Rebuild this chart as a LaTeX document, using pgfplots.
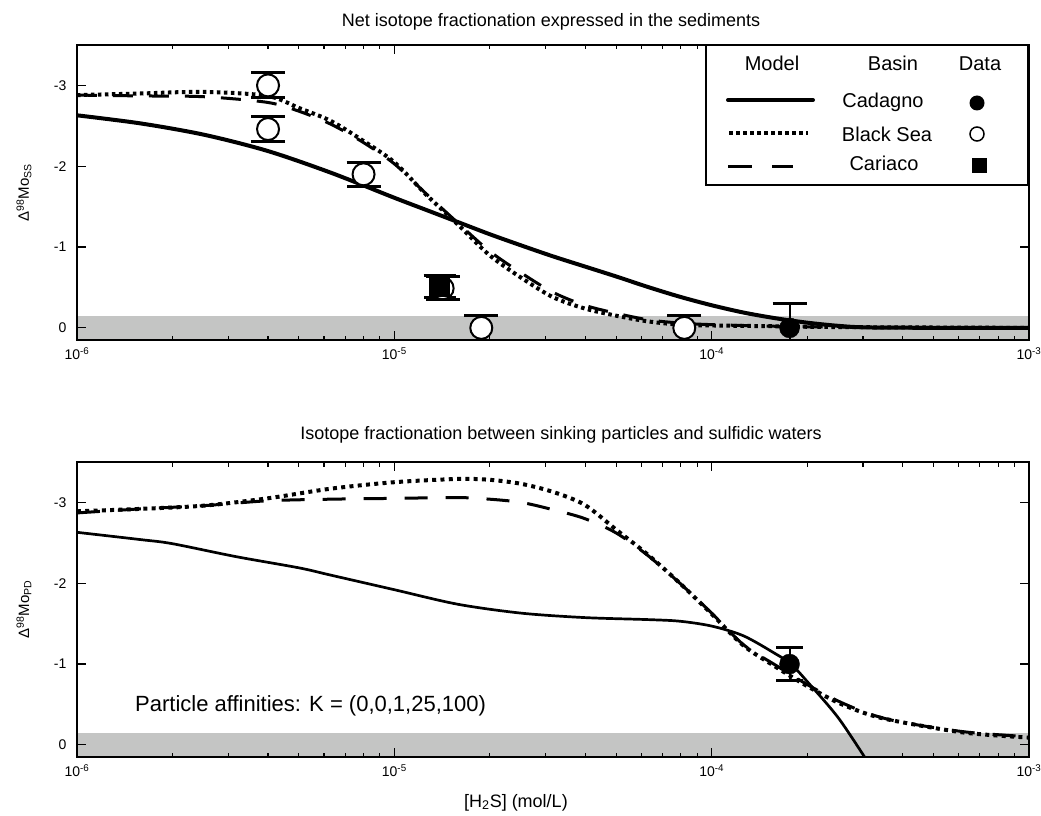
\documentclass[border=0pt]{standalone}
\usepackage{fontspec}
\setmainfont{Liberation Sans}
\usepackage{pgfplots}
\pgfplotsset{compat=1.18}
\definecolor{band}{RGB}{196,197,196}
\newcommand\tickfont{\fontsize{14}{16}\selectfont}

\pgfplotsset{
  moaxis/.style={
    scale only axis, width=952pt, height=295pt,
    xmin=1e-6, xmax=1e-3,
    ymin=-3.5, ymax=0.15, y dir=reverse,
    xtick={1e-6,1e-5,1e-4,1e-3},
    xticklabels={{\tickfont 10\textsuperscript{-6}},{\tickfont 10\textsuperscript{-5}},
                 {\tickfont 10\textsuperscript{-4}},{\tickfont 10\textsuperscript{-3}}},
    minor xtick={2e-6,3e-6,4e-6,5e-6,6e-6,7e-6,8e-6,9e-6,
                 2e-5,3e-5,4e-5,5e-5,6e-5,7e-5,8e-5,9e-5,
                 2e-4,3e-4,4e-4,5e-4,6e-4,7e-4,8e-4,9e-4},
    ytick={-3,-2,-1,0},
    yticklabels={{\tickfont -3},{\tickfont -2},{\tickfont -1},{\tickfont 0}},
    tick align=inside, tick pos=both,
    major tick length=9pt, minor tick length=4.5pt,
    every tick/.style={line width=1.2pt, black},
    axis line style={line width=1.6pt},
    axis on top,
    yticklabel style={xshift=-7pt},
    xticklabel style={yshift=-4pt},
    ylabel style={at={(axis description cs:-0.0557,0.5)}, anchor=center},
  },
  ebar/.style={
    error bars/y dir=both, error bars/y explicit,
    error bars/error bar style={line width=2pt, black},
    error bars/error mark options={rotate=90, mark size=#1, line width=3pt, black}},
  openpt/.style={only marks, mark=*, mark size=11pt,
    mark options={fill=white, draw=black, line width=2pt}, ebar=17pt},
  fullpt/.style={only marks, mark=*, mark size=10pt,
    mark options={fill=black, draw=black}},
}

\begin{document}
\begin{tikzpicture}

% top panel: sediments
\begin{semilogxaxis}[moaxis, at={(0,417pt)},
  ylabel={\fontsize{15}{17}\selectfont Δ\textsuperscript{98}Mo\textsubscript{SS}}]
\addplot[fill=band, draw=none] coordinates {(1e-6,-0.15) (1e-3,-0.15) (1e-3,0.5) (1e-6,0.5)} -- cycle;

% Cadagno
\addplot[black, line width=4pt, smooth] coordinates {
 (1e-6,-2.63) (1.585e-6,-2.53) (2.512e-6,-2.39) (3.981e-6,-2.19) (6.310e-6,-1.92)
 (1e-5,-1.61) (1.259e-5,-1.46) (1.585e-5,-1.31) (1.995e-5,-1.16) (2.512e-5,-1.02)
 (3.162e-5,-0.885) (3.981e-5,-0.76) (5.012e-5,-0.635) (6.310e-5,-0.505) (7.943e-5,-0.385)
 (1e-4,-0.28) (1.259e-4,-0.19) (1.585e-4,-0.12) (1.995e-4,-0.065) (2.512e-4,-0.025)
 (3.162e-4,-0.005) (6.310e-4,0.0) (1e-3,0.0)};
% Cariaco
\addplot[black, line width=3pt, smooth, dash pattern=on 20pt off 16pt] coordinates {
 (1e-6,-2.88) (1.585e-6,-2.87) (2.512e-6,-2.86) (3.981e-6,-2.79) (5.012e-6,-2.68)
 (6.310e-6,-2.52) (7.943e-6,-2.30) (1e-5,-2.03) (1.259e-5,-1.66) (1.585e-5,-1.30)
 (1.995e-5,-0.95) (2.512e-5,-0.68) (3.162e-5,-0.44) (3.981e-5,-0.28) (5.012e-5,-0.18)
 (6.310e-5,-0.10) (7.943e-5,-0.06) (1e-4,-0.04) (1.585e-4,-0.02) (2.512e-4,-0.01)
 (1e-3,0.0)};
% Black Sea
\addplot[black, line width=4pt, smooth, dash pattern=on 3.5pt off 3.5pt] coordinates {
 (1e-6,-2.88) (1.585e-6,-2.90) (2.512e-6,-2.92) (3.981e-6,-2.87) (5.012e-6,-2.72)
 (6.310e-6,-2.56) (7.943e-6,-2.32) (1e-5,-2.05) (1.259e-5,-1.65) (1.585e-5,-1.28)
 (1.995e-5,-0.90) (2.512e-5,-0.62) (3.162e-5,-0.38) (3.981e-5,-0.24) (5.012e-5,-0.15)
 (6.310e-5,-0.08) (7.943e-5,-0.04) (1e-4,-0.03) (1.585e-4,-0.02) (2.512e-4,-0.01)
 (1e-3,0.0)};

% Black Sea data
\addplot[openpt] coordinates {
 (4e-6,-3.00) +- (0,0.155)
 (4e-6,-2.46) +- (0,0.15)
 (8e-6,-1.90) +- (0,0.15)
 (1.42e-5,-0.49) +- (0,0.14)
 (1.88e-5,0.0) +- (0,0.15)
 (8.2e-5,0.0) +- (0,0.15)};
% Cariaco data
\addplot[only marks, mark=square*, mark size=10pt, mark options={fill=black, draw=black}, ebar=16pt]
 coordinates {(1.39e-5,-0.51) +- (0,0.14)};
% Cadagno data
\addplot[fullpt, ebar=17pt] coordinates {(1.76e-4,0.0) +- (0,0.30)};
\end{semilogxaxis}

% bottom panel: particles vs waters
\begin{semilogxaxis}[moaxis, at={(0,0)},
  ylabel={\fontsize{15}{17}\selectfont Δ\textsuperscript{98}Mo\textsubscript{PD}}]
\addplot[fill=band, draw=none] coordinates {(1e-6,-0.15) (1e-3,-0.15) (1e-3,0.5) (1e-6,0.5)} -- cycle;

% Cadagno
\addplot[black, line width=2.7pt, smooth] coordinates {
 (1e-6,-2.63) (1.585e-6,-2.54) (1.995e-6,-2.49) (3.162e-6,-2.33) (5.012e-6,-2.19)
 (6.310e-6,-2.10) (1e-5,-1.92) (1.585e-5,-1.74) (2.512e-5,-1.63) (3.981e-5,-1.575)
 (6.310e-5,-1.55) (7.943e-5,-1.53) (1e-4,-1.47) (1.259e-4,-1.35) (1.585e-4,-1.13)
 (1.778e-4,-1.00) (1.995e-4,-0.79) (2.512e-4,-0.33) (3.162e-4,0.26)};
% Cariaco
\addplot[black, line width=3pt, smooth, dash pattern=on 23pt off 18pt] coordinates {
 (1e-6,-2.87) (1.585e-6,-2.92) (2.512e-6,-2.96) (3.981e-6,-3.02) (6.310e-6,-3.04)
 (1e-5,-3.05) (1.585e-5,-3.06) (1.995e-5,-3.04) (2.512e-5,-3.00) (3.162e-5,-2.91)
 (3.981e-5,-2.80) (5.012e-5,-2.62) (6.310e-5,-2.34) (7.943e-5,-2.00) (1e-4,-1.63)
 (1.259e-4,-1.24) (1.585e-4,-0.99) (1.995e-4,-0.75) (2.512e-4,-0.54) (3.162e-4,-0.38)
 (3.981e-4,-0.28) (6.310e-4,-0.16) (1e-3,-0.10)};
% Black Sea
\addplot[black, line width=4pt, smooth, dash pattern=on 4pt off 4.3pt] coordinates {
 (1e-6,-2.89) (1.585e-6,-2.92) (2.512e-6,-2.96) (3.981e-6,-3.05) (6.310e-6,-3.17)
 (1e-5,-3.25) (1.585e-5,-3.29) (1.995e-5,-3.28) (2.512e-5,-3.23) (3.162e-5,-3.13)
 (3.981e-5,-2.97) (5.012e-5,-2.66) (6.310e-5,-2.35) (7.943e-5,-2.00) (1e-4,-1.62)
 (1.259e-4,-1.23) (1.585e-4,-0.97) (1.995e-4,-0.73) (2.512e-4,-0.52) (3.162e-4,-0.37)
 (3.981e-4,-0.28) (6.310e-4,-0.15) (1e-3,-0.09)};

% Cadagno data
\addplot[fullpt, ebar=13.5pt] coordinates {(1.76e-4,-1.0) +- (0,0.2)};
\end{semilogxaxis}

% titles and labels
\node[anchor=base, font=\fontsize{18}{20}\selectfont] at (474pt,730pt)
  {Net isotope fractionation expressed in the sediments};
\node[anchor=base, font=\fontsize{18}{20}\selectfont] at (484pt,318pt)
  {Isotope fractionation between sinking particles and sulfidic waters};
\node[anchor=base, font=\fontsize{18}{20}\selectfont] at (439pt,-50pt)
  {[H\textsubscript{2}S] (mol/L)};
\node[anchor=base west, inner sep=0pt, font=\fontsize{22}{24}\selectfont] at (58pt,46pt)
  {Particle affinities: K = (0,0,1,25,100)};

% legend
\begin{scope}[font=\fontsize{20}{22}\selectfont]
\draw[line width=1.6pt, fill=white] (629pt,572pt) rectangle (951pt,712pt);
\node[anchor=base] at (695pt,686pt) {Model};
\node[anchor=base] at (816pt,686pt) {Basin};
\node[anchor=base] at (903pt,686pt) {Data};
\draw[line width=4pt, line cap=round] (651pt,657pt) -- (736pt,657pt);
\draw[line width=4pt, dash pattern=on 3.5pt off 3.5pt] (652pt,624pt) -- (731pt,624pt);
\draw[line width=3pt, dash pattern=on 24pt off 20pt] (651pt,590pt) -- (716pt,590pt);
\node[anchor=base] at (806pt,649pt) {Cadagno};
\node[anchor=base] at (810pt,615pt) {Black Sea};
\node[anchor=base] at (807pt,586pt) {Cariaco};
\fill (900pt,654pt) circle (7.5pt);
\draw[line width=1.5pt] (900pt,623pt) circle (7pt);
\fill (894.5pt,583.5pt) rectangle (909.5pt,598.5pt);
\end{scope}

\pgfresetboundingbox
\path[use as bounding box] (-77pt,-58pt) rectangle (964pt,757pt);
\end{tikzpicture}
\end{document}
